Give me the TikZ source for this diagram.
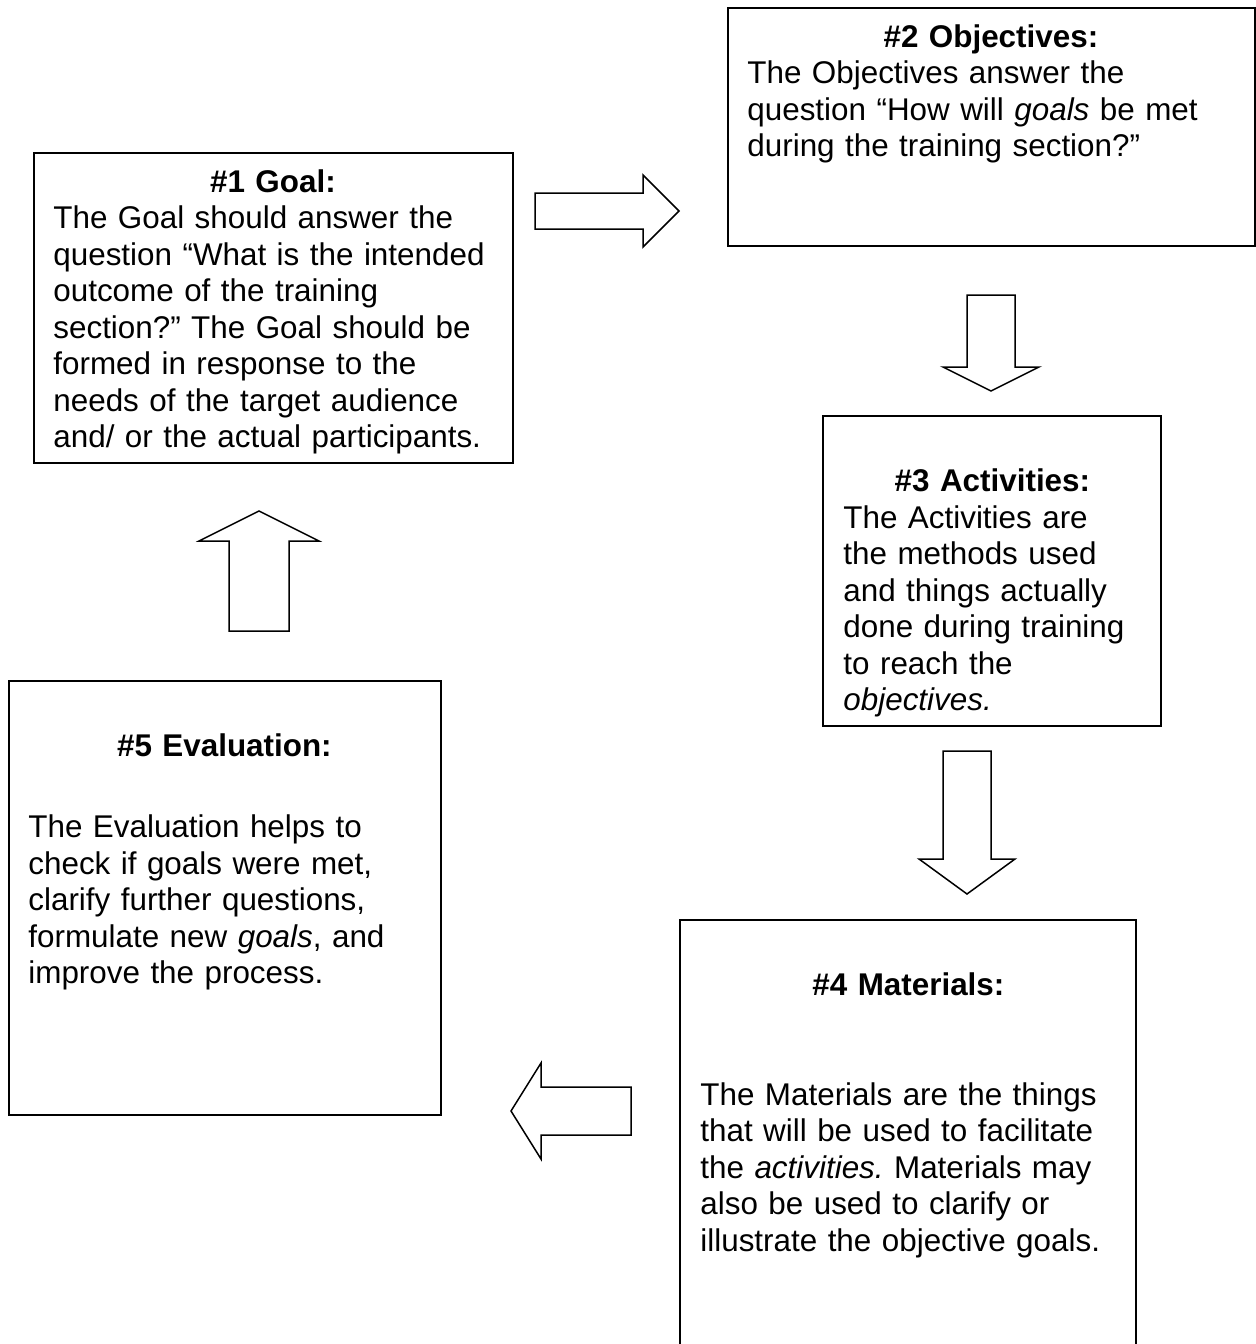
\documentclass[tikz,border=0pt]{standalone}
\usepackage{fontspec}
\setmainfont{Liberation Sans}
\hyphenpenalty=10000
\exhyphenpenalty=10000
\frenchspacing
\newcommand{\boxtitle}[1]{\makebox[\hsize]{\bfseries #1}}

\begin{document}
\begin{tikzpicture}[x=0.5pt, y=-0.5pt,
    box/.style={draw, line width=1pt, anchor=north west, inner sep=0pt},
    boxtext/.style={anchor=base west, inner sep=0pt, align=left,
        font=\fontsize{15.7}{18.25}\selectfont},
    blockarrow/.style={draw, line width=0.75pt, line join=miter}]
    \useasboundingbox (0,0) rectangle (1256,1344);
    % the five boxes
    \node[box, minimum width=239.5pt, minimum height=155pt] (goal) at (33,152) {};
    \node[box, minimum width=263.5pt, minimum height=119pt] (objectives) at (727,7) {};
    \node[box, minimum width=169pt, minimum height=155pt] (activities) at (822,415) {};
    \node[box, minimum width=228pt, minimum height=215.5pt] (materials) at (679,919) {};
    \node[box, minimum width=216pt, minimum height=217pt] (evaluation) at (8,680) {};
    % texts
    \node[boxtext, text width=219.5pt] (goaltext)
        at ([xshift=10pt, yshift=-20pt]goal.north west) {%
        \boxtitle{\#1 Goal:}\\
        The Goal should answer the\\
        question “What is the intended\\
        outcome of the training\\
        section?” The Goal should be\\
        formed in response to the\\
        needs of the target audience\\
        and/ or the actual participants.};
    \node[boxtext, text width=243.5pt] (objectivestext)
        at ([xshift=10pt, yshift=-20pt]objectives.north west) {%
        \boxtitle{\#2 Objectives:}\\
        The Objectives answer the\\
        question “How will \textit{goals} be met\\
        during the training section?”};
    \node[boxtext, text width=149pt] (activitiestext)
        at ([xshift=10.5pt, yshift=-20pt]activities.north west) {%
        \mbox{}\\
        \boxtitle{\#3 Activities:}\\
        The Activities are\\
        the methods used\\
        and things actually\\
        done during training\\
        to reach the\\
        \textit{objectives.}};
    \node[boxtext, text width=208pt] (materialstext)
        at ([xshift=10.5pt, yshift=-20pt]materials.north west) {%
        \mbox{}\\
        \boxtitle{\#4 Materials:}\\
        \mbox{}\\
        \mbox{}\\
        The Materials are the things\\
        that will be used to facilitate\\
        the \textit{activities.} Materials may\\
        also be used to clarify or\\
        illustrate the objective goals.};
    \node[boxtext, text width=196pt] (evaluationtext)
        at ([xshift=10pt, yshift=-20pt]evaluation.north west) {%
        \mbox{}\\
        \boxtitle{\#5 Evaluation:}\\
        \mbox{}\\[4pt]
        The Evaluation helps to\\
        check if goals were met,\\
        clarify further questions,\\
        formulate new \textit{goals}, and\\
        improve the process.};
    % block arrows
    \draw[blockarrow] (535,193) -- (643,193) -- (643,175) -- (679,211)
        -- (643,247) -- (643,229) -- (535,229) -- cycle;
    \draw[blockarrow] (967,295) -- (1015,295) -- (1015,367) -- (1039,367)
        -- (991,391) -- (943,367) -- (967,367) -- cycle;
    \draw[blockarrow] (943,751) -- (991,751) -- (991,859) -- (1015,859)
        -- (967,894) -- (919,859) -- (943,859) -- cycle;
    \draw[blockarrow] (631,1087) -- (541,1087) -- (541,1063) -- (511,1111)
        -- (541,1159) -- (541,1135) -- (631,1135) -- cycle;
    \draw[blockarrow] (229,631) -- (229,541) -- (199,541) -- (259,511)
        -- (319,541) -- (289,541) -- (289,631) -- cycle;
\end{tikzpicture}
\end{document}
